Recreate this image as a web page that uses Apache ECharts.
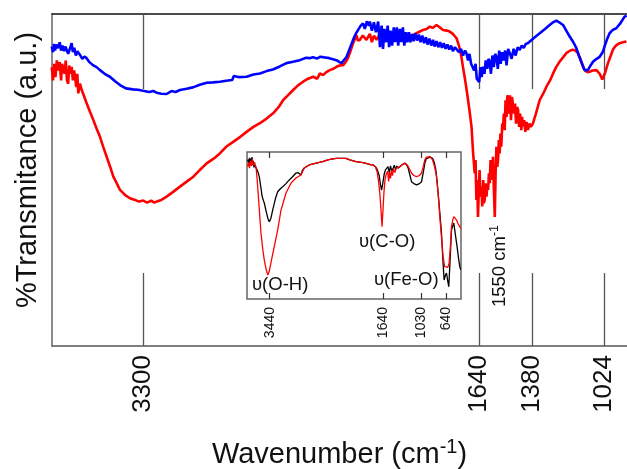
<!DOCTYPE html>
<html>
<head>
<meta charset="utf-8">
<script src="https://cdn.jsdelivr.net/npm/echarts@6/dist/echarts.min.js"></script>
<style>html,body{margin:0;padding:0;background:#fff}#c{width:627px;height:469px}</style>
</head>
<body>
<div id="c"></div>
<script>
// Main plot tick labels (wavenumber, cm-1)
const mainTicks = [3300, 1640, 1380, 1024];
const insetTicks = [3440, 1640, 1030, 640];

// Main spectrum, blue: [wavenumber, %T (a.u.)]
const blueData = [
[3751,90.2],[3745,88.5],[3740,91],[3735,89],[3728,90.8],[3720,89.7],[3712,91.5],[3705,89],[3698,90.5],[3690,88.8],[3684,90.2],[3677,90.2],[3670,88],[3662,89.5],[3653,91.2],[3647,88.5],[3640,89.8],[3632,87.5],[3625,88.8],[3612,87.7],[3600,86.5],[3590,87.2],[3579,86.7],[3565,85.5],[3548,84.6],[3530,84],[3513,83.1],[3490,82],[3464,81.1],[3440,79.8],[3414,78.6],[3385,77.6],[3350,77.3],[3325,77.2],[3301,76.9],[3270,76.5],[3250,76.8],[3233,76.3],[3210,76],[3184,75.9],[3160,76.8],[3140,76.5],[3118,77.1],[3085,77.5],[3054,77.9],[3020,78.7],[2986,79.3],[2955,79.4],[2921,79.6],[2890,79.9],[2860,80.1],[2852,81.3],[2830,81],[2789,81.1],[2755,81.8],[2723,82.1],[2690,82.8],[2659,83.3],[2625,84.2],[2592,85.2],[2560,85.6],[2526,86.1],[2495,86.8],[2477,86.7],[2462,87],[2440,86.6],[2427,87.1],[2411,87],[2380,86.7],[2345,86.1],[2330,85.5],[2320,85.2],[2310,86],[2295,87.1],[2280,89.5],[2263,92.2],[2250,94],[2238,95.2],[2225,96.5],[2214,97.2],[2205,95.5],[2195,97.8],[2185,96.5],[2180,97.7],[2170,95],[2160,97.5],[2150,94.5],[2139,97.7],
[2130,90],[2122,96.5],[2115,89.5],[2108,95.5],[2100,91.5],[2092,96.5],[2085,90],[2078,95],[2070,90.5],[2062,96],[2055,91.5],[2047,96],[2040,90.5],[2032,95.5],[2025,91.5],[2017,96],[2010,90.5],[2002,94.5],[1995,91.5],[1987,94.5],[1980,91.5],[1972,94],[1964,91.8],[1955,94.2],[1947,92],[1938,93.8],[1930,91.5],[1921,93.5],[1912,91.2],[1903,93],[1895,90.8],[1886,92.6],[1877,90.5],[1868,92.2],[1860,90.2],[1851,91.8],[1842,90],[1833,91.5],[1824,89.8],[1815,91.2],[1806,89.5],[1797,90.8],[1788,89.3],[1779,90.5],[1770,88.8],[1760,90],[1752,89.7],[1740,88.5],[1730,89.5],[1720,87.5],[1710,89],[1703,88.2],[1695,86],[1688,88],[1680,85],[1671,85.6],[1665,83],[1658,85],[1652,80.5],[1646,81.1],[1640,79.5],[1634,84],[1628,81],[1621,84.1],[1614,82],[1608,86],[1600,83.5],[1594,86.5],[1588,85.6],[1582,82],[1575,87.5],[1568,84],[1561,88],[1555,87.1],[1548,83.5],[1541,89],[1534,85],[1527,88.5],[1520,86],[1512,89],[1505,84.5],[1497,89.5],[1489,88.2],[1480,86.5],[1470,89.5],[1460,87.5],[1450,90],[1440,89.2],[1430,90.5],[1420,89.8],[1410,91],[1400,91.2],[1391,91.7],
[1370,92.8],[1341,94.2],[1315,95.5],[1292,96.7],[1275,97.5],[1259,98],[1245,97.5],[1226,96.7],[1210,95],[1193,93.2],[1175,91.5],[1160,89.7],[1148,87.5],[1136,85.6],[1125,83.8],[1119,83.1],[1110,82.8],[1103,83.1],[1090,84.5],[1078,85.6],[1060,86.5],[1045,87.1],[1030,88.5],[1021,90.2],[1008,92.5],[996,94.2],[980,95.2],[963,95.7],[945,97],[922,99.2],[912,99.5]
];

// Main spectrum, red
const redData = [
[3751,84],[3745,80],[3740,85],[3733,81],[3726,86],[3719,83],[3712,85.5],[3705,80],[3700,85],[3694,84.6],[3688,82],[3682,86],[3676,80],[3670,79],[3665,84.5],[3659,82],[3653,84.1],[3647,80],[3641,83],[3636,81.1],[3630,78],[3625,82],[3620,76.1],[3612,79],[3603,77.1],[3590,75],[3579,73.1],[3562,70.5],[3546,68.1],[3530,65.5],[3513,63],[3497,60],[3480,57],[3463,54],[3447,51],[3430,49],[3414,47],[3390,45.5],[3365,44.5],[3340,44],[3320,43.5],[3299,43.8],[3280,43.2],[3260,43.8],[3245,43.2],[3233,43.5],[3210,44],[3184,45],[3150,46.5],[3118,48],[3085,49.5],[3052,51],[3020,53],[2986,55],[2950,56.5],[2921,58],[2890,60],[2855,61.5],[2820,63],[2789,64.5],[2755,66],[2723,67.1],[2690,68.5],[2658,70.1],[2630,72],[2608,74.1],[2585,75.5],[2559,77.1],[2535,78.5],[2510,79.6],[2485,80.5],[2460,81.1],[2440,80.5],[2427,82.1],[2411,81.6],[2395,82.5],[2378,83.1],[2360,83.5],[2345,84.1],[2330,84.5],[2312,84.6],[2300,85.5],[2288,86.7],[2275,89],[2263,91.2],[2246,93.7],[2240,92],[2230,92.2],[2215,93.5],[2197,92.2],[2180,94],[2170,91.5],[2160,93.5],[2147,92.2],[2130,94],[2115,91.8],[2098,93.2],[2080,92.5],[2065,94],[2049,93.2],[2030,92.6],[2010,93.8],[1983,93.2],[1950,94.2],[1917,95.2],[1900,95.5],[1884,96.2],[1870,95.8],[1851,96.7],[1835,96],[1819,95.2],[1800,95],[1786,94.7],[1770,94],[1752,92.7],[1740,90.5],[1728,87.1],[1720,84],[1712,81.1],[1703,77.5],[1695,74.1],[1686,70],[1678,66.1],[1670,58],
[1662,52],[1658,56],[1654,44],[1650,50],[1646,38.9],[1642,47],[1638,53],[1634,45],[1629,48],[1625,42],[1620,50],[1617,43],[1613,44],[1608,49],[1604,45],[1600,48.5],[1596,47],[1592,52],[1588,49],[1584,56],[1580,55],[1576,50],[1572,57],[1568,48],[1563,38.9],[1559,52],[1555,60],[1551,54],[1547,56],[1543,62],[1539,58],[1535,64],[1531,60],[1526,67],[1522,66.1],[1518,70],[1514,65],[1510,74],[1505,69],[1501,75.5],[1497,74.1],[1493,70],[1488,75.5],[1483,68],[1478,75],[1473,75.1],[1468,70],[1463,73],[1458,67],[1453,72],[1448,71.1],[1443,66],[1438,70],[1432,65],[1428,69],[1424,66.1],[1418,68],[1412,64.5],[1406,67.5],[1399,65.1],[1392,67],[1385,66],[1374,67.1],[1360,70],
[1341,74.1],[1320,76.5],[1308,78.1],[1290,80],[1275,82.1],[1260,84],[1243,85.6],[1225,87],[1210,88.2],[1190,89],[1177,89.2],[1165,89],[1152,88.2],[1140,86.5],[1136,85.6],[1125,84],[1119,83.1],[1105,82.5],[1094,82.6],[1080,83],[1061,83.1],[1045,82],[1032,80.3],[1020,82],[1004,85.2],[990,87.5],[980,89.2],[965,90.5],[947,91.2],[930,91.5],[913,91.7]
];

// Inset spectrum, black
const insetBlack = [
[3790,93.4],[3780,95],[3770,91.5],[3760,96],[3750,92],[3740,95.5],[3730,90.5],[3720,96.5],[3710,91],[3700,94],[3690,89.5],[3680,93],[3670,90],[3657,91.2],[3640,88],[3620,85.5],[3605,83.2],[3580,76],[3560,70],[3540,67],[3525,65.3],[3500,60.5],[3470,55],[3446,52.6],[3420,55],[3392,60.5],[3350,68],[3313,73],[3270,75],[3233,76.4],[3180,78.5],[3129,81],[3080,83],[3022,85.7],[2990,86],[2960,85.5],[2943,84.4],[2920,87.5],[2890,89.1],[2811,91.2],[2700,92.5],[2598,93.4],[2500,94.8],[2387,95.7],[2229,95.7],[2165,94.6],[2070,93.4],[1954,92.7],[1850,91.5],[1795,91.2],[1760,90],[1730,88],[1700,84],[1680,78],[1662,74.1],[1645,78],[1620,85],[1600,87.8],[1583,87.8],[1560,90],[1540,86],[1520,90.5],[1500,87],[1478,89.1],[1460,91],[1440,88],[1420,90.5],[1400,89],[1371,90],[1330,91.5],[1292,92.3],[1260,91],[1240,89.1],[1210,84],[1186,79.8],[1150,78.5],[1106,77.6],[1060,78.5],[1027,79.8],[1000,86],[975,92.3],[950,95.5],[922,96.8],[890,96.5],[852,95.7],[825,93],[800,87.8],[780,80],[763,71.9],[735,58],[710,44.9],[690,28],[668,12.9],[650,16],[630,17.7],[610,12],[594,8.4],[575,25],[551,46.9],[530,50],[514,51.7],[490,44],[462,35.6],[440,28],[419,22],[405,20]
];

// Inset spectrum, red
const insetRed = [
[3790,90],[3775,93],[3760,89],[3745,94],[3730,90.5],[3715,95],[3700,91],[3690,93],[3680,91.5],[3665,91],[3657,90],[3640,82],[3615,67.3],[3595,55],[3578,44.9],[3550,34],[3525,26.5],[3495,20],[3470,16.3],[3445,19],[3420,24.5],[3366,35.8],[3313,46.9],[3260,60.5],[3180,72.1],[3100,78.9],[3022,82.3],[2943,84.4],[2890,89.1],[2811,91.2],[2700,92.5],[2598,93.4],[2500,94.8],[2387,95.7],[2229,95.7],[2165,94.6],[2070,93.4],[1954,92.7],[1850,91.5],[1795,91.2],[1760,90],[1730,86],[1710,80],[1690,72],[1670,60],[1655,49.2],[1640,60],[1625,72],[1610,80],[1595,84],[1583,83],[1565,87],[1550,80],[1535,86],[1520,82],[1505,87.5],[1490,84],[1470,88.5],[1450,86],[1430,89],[1400,88.5],[1371,90],[1330,91.5],[1292,92.5],[1250,91],[1220,88.5],[1186,85.7],[1150,84],[1106,83.2],[1060,84],[1027,85.7],[1000,90],[975,94.6],[950,96.5],[922,97.3],[890,96.8],[852,94.6],[820,90],[789,83.2],[760,70],[737,56],[710,42],[684,28.8],[660,22],[630,20.9],[610,21.5],[589,24.3],[570,35],[551,49.2],[530,54],[514,56],[490,55],[471,53.7],[445,51],[419,49.2],[405,48]
];

const FONT = 'Liberation Sans, Arial, sans-serif';
const plain = v => String(v);
const chart = echarts.init(document.getElementById('c'));
chart.setOption({
  animation: false,
  backgroundColor: '#fff',
  grid: [
    {left: 52, top: 14, right: 0, bottom: 123, outerBoundsMode: 'none', containLabel: false},
    {left: 247, top: 152, width: 214, height: 147, outerBoundsMode: 'none', containLabel: false,
     show: true, backgroundColor: '#fff', borderColor: '#666', borderWidth: 1.5}
  ],
  xAxis: [
    {gridIndex: 0, type: 'value', min: 910, max: 3750, inverse: true, position: 'bottom',
     axisLine: {lineStyle: {color: '#555', width: 1.5}},
     axisTick: {show: true, inside: true, length: 73, customValues: mainTicks, lineStyle: {color: '#555', width: 1.3}},
     axisLabel: {show: true, customValues: mainTicks, formatter: plain, rotate: 90, fontSize: 26, color: '#111', margin: 9, fontFamily: FONT},
     splitLine: {show: false},
     name: 'Wavenumber (cm{sup|-1})', nameLocation: 'middle', nameGap: 91,
     nameTextStyle: {fontSize: 29, color: '#111', fontFamily: FONT,
       rich: {sup: {fontSize: 20, color: '#111', fontFamily: FONT, padding: [0, 0, 16, 0]}}}
    },
    {gridIndex: 0, type: 'value', min: 910, max: 3750, inverse: true, position: 'top',
     axisLine: {lineStyle: {color: '#111', width: 1.5}},
     axisTick: {show: true, inside: true, length: 75, customValues: mainTicks, lineStyle: {color: '#555', width: 1.3}},
     axisLabel: {show: false}, splitLine: {show: false}
    },
    {gridIndex: 1, type: 'value', min: 400, max: 3800, inverse: true, position: 'bottom',
     axisLine: {show: false},
     axisTick: {show: true, inside: true, length: 6, customValues: insetTicks, lineStyle: {color: '#333', width: 1.2}},
     axisLabel: {show: true, customValues: insetTicks, formatter: plain, rotate: 90, fontSize: 14, color: '#111', margin: 8, fontFamily: FONT},
     splitLine: {show: false}
    },
    {gridIndex: 1, type: 'value', min: 400, max: 3800, inverse: true, position: 'top',
     axisLine: {show: false},
     axisTick: {show: true, inside: true, length: 6, customValues: insetTicks, lineStyle: {color: '#333', width: 1.2}},
     axisLabel: {show: false}, splitLine: {show: false}
    }
  ],
  yAxis: [
    {gridIndex: 0, type: 'value', min: 0, max: 100,
     axisLine: {show: true, lineStyle: {color: '#666', width: 1.5}},
     axisTick: {show: false}, axisLabel: {show: false}, splitLine: {show: false},
     name: '%Transmitance (a.u.)', nameLocation: 'middle', nameGap: 10,
     nameTextStyle: {fontSize: 29, color: '#111', fontFamily: FONT, padding: [0, 0, 0, 20]}
    },
    {gridIndex: 1, type: 'value', min: 0, max: 100,
     axisLine: {show: false}, axisTick: {show: false}, axisLabel: {show: false}, splitLine: {show: false}
    }
  ],
  series: [
    {type: 'line', xAxisIndex: 0, yAxisIndex: 0, data: redData, showSymbol: false, lineStyle: {color: '#ff0000', width: 2.6}, z: 2},
    {type: 'line', xAxisIndex: 0, yAxisIndex: 0, data: blueData, showSymbol: false, lineStyle: {color: '#0000ff', width: 2.6}, z: 3},
    {type: 'line', xAxisIndex: 2, yAxisIndex: 1, data: insetBlack, showSymbol: false, lineStyle: {color: '#000', width: 1.3}, z: 5},
    {type: 'line', xAxisIndex: 2, yAxisIndex: 1, data: insetRed, showSymbol: false, lineStyle: {color: '#ff0000', width: 1.3}, z: 6}
  ],
  graphic: [
    {type: 'text', left: 252, top: 275, z: 10, style: {text: 'υ(O-H)', fontSize: 18.5, fill: '#111', fontFamily: FONT}},
    {type: 'text', left: 359, top: 232, z: 10, style: {text: 'υ(C-O)', fontSize: 18.5, fill: '#111', fontFamily: FONT}},
    {type: 'text', left: 374, top: 270, z: 10, style: {text: 'υ(Fe-O)', fontSize: 18.5, fill: '#111', fontFamily: FONT}},
    {type: 'text', x: 500, y: 266, rotation: Math.PI / 2, z: 10,
     style: {text: '1550 cm{sup|-1}', fontSize: 18.5, fill: '#111', fontFamily: FONT, align: 'center', verticalAlign: 'middle',
       rich: {sup: {fontSize: 12.5, fill: '#111', fontFamily: FONT, padding: [0, 0, 10, 0]}}}}
  ]
});
</script>
</body>
</html>
